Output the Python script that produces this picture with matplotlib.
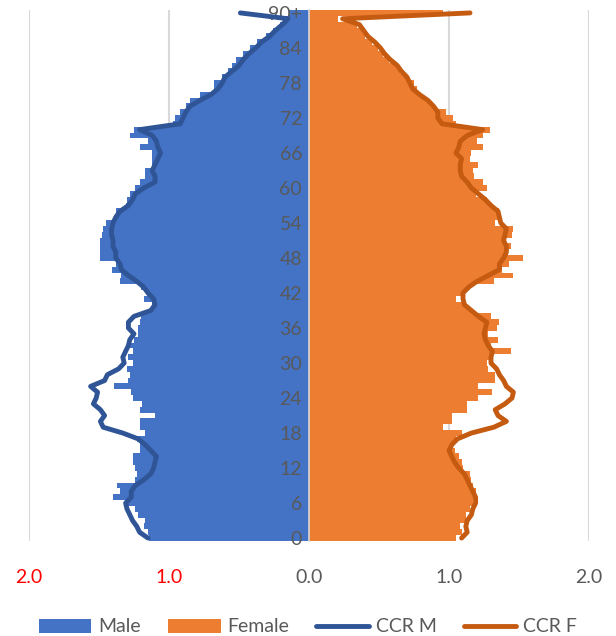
import numpy as np
import matplotlib.pyplot as plt
from matplotlib.patches import Patch
from matplotlib.lines import Line2D

plt.rcParams["font.family"] = ["Lato", "DejaVu Sans"]

ages = list(range(0, 91))

male = [
    1.14, 1.15, 1.18, 1.17, 1.22, 1.24, 1.30, 1.40, 1.35, 1.37,
    1.24, 1.23, 1.24, 1.26, 1.26, 1.21, 1.21, 1.23, 1.17, 1.21,
    1.21, 1.10, 1.21, 1.19, 1.26, 1.27, 1.39, 1.29, 1.28, 1.30,
    1.26, 1.29, 1.26, 1.28, 1.25, 1.22, 1.22, 1.21, 1.20, 1.13,
    1.12, 1.18, 1.16, 1.20, 1.35, 1.34, 1.41, 1.38, 1.49, 1.49,
    1.49, 1.49, 1.48, 1.47, 1.45, 1.38, 1.38, 1.31, 1.30, 1.28,
    1.24, 1.21, 1.17, 1.17, 1.12, 1.12, 1.12, 1.21, 1.15, 1.28,
    1.25, 0.97, 0.96, 0.92, 0.88, 0.85, 0.78, 0.68, 0.68, 0.62,
    0.58, 0.55, 0.52, 0.47, 0.42, 0.37, 0.31, 0.26, 0.21, 0.17,
    0.14,
]

female = [
    1.05, 1.09, 1.08, 1.13, 1.12, 1.15, 1.17, 1.19, 1.19, 1.17,
    1.16, 1.15, 1.10, 1.09, 1.07, 1.04, 1.03, 1.05, 1.09, 0.96,
    1.02, 1.02, 1.13, 1.13, 1.21, 1.31, 1.21, 1.33, 1.33, 1.28,
    1.27, 1.30, 1.44, 1.30, 1.35, 1.28, 1.34, 1.36, 1.30, 1.16,
    1.12, 1.05, 1.10, 1.15, 1.32, 1.46, 1.38, 1.43, 1.53, 1.42,
    1.44, 1.40, 1.45, 1.46, 1.33, 1.37, 1.36, 1.29, 1.27, 1.19,
    1.27, 1.24, 1.18, 1.17, 1.21, 1.15, 1.16, 1.24, 1.20, 1.24,
    1.29, 1.05, 1.03, 0.98, 0.89, 0.85, 0.79, 0.77, 0.75, 0.69,
    0.65, 0.62, 0.57, 0.53, 0.49, 0.45, 0.40, 0.38, 0.34, 0.21,
    0.96,
]

ccr_m = [
    1.15, 1.21, 1.23, 1.26, 1.28, 1.30, 1.31, 1.27, 1.27, 1.24,
    1.18, 1.13, 1.11, 1.10, 1.09, 1.13, 1.17, 1.22, 1.33, 1.47,
    1.49, 1.46, 1.49, 1.54, 1.52, 1.51, 1.56, 1.46, 1.44, 1.36,
    1.32, 1.33, 1.31, 1.29, 1.28, 1.25, 1.29, 1.29, 1.25, 1.13,
    1.10, 1.11, 1.15, 1.18, 1.23, 1.29, 1.34, 1.35, 1.38, 1.38,
    1.40, 1.40, 1.41, 1.41, 1.40, 1.38, 1.35, 1.29, 1.26, 1.24,
    1.18, 1.10, 1.10, 1.12, 1.10, 1.08, 1.06, 1.08, 1.09, 1.12,
    1.21, 0.92, 0.90, 0.88, 0.85, 0.78, 0.70, 0.65, 0.62, 0.60,
    0.55, 0.50, 0.47, 0.43, 0.38, 0.34, 0.28, 0.24, 0.19, 0.15,
    0.49,
]

ccr_f = [
    1.09, 1.13, 1.12, 1.13, 1.16, 1.17, 1.19, 1.19, 1.17, 1.15,
    1.13, 1.11, 1.07, 1.04, 1.02, 1.00, 1.02, 1.06, 1.16, 1.32,
    1.41, 1.35, 1.33, 1.40, 1.45, 1.46, 1.41, 1.39, 1.36, 1.34,
    1.30, 1.30, 1.31, 1.28, 1.26, 1.25, 1.26, 1.27, 1.21, 1.16,
    1.11, 1.10, 1.10, 1.14, 1.20, 1.28, 1.36, 1.36, 1.39, 1.41,
    1.41, 1.39, 1.40, 1.41, 1.37, 1.36, 1.35, 1.30, 1.26, 1.21,
    1.16, 1.13, 1.09, 1.08, 1.08, 1.09, 1.05, 1.07, 1.08, 1.13,
    1.24, 0.95, 0.92, 0.92, 0.89, 0.85, 0.79, 0.74, 0.72, 0.70,
    0.66, 0.63, 0.58, 0.54, 0.51, 0.47, 0.42, 0.39, 0.36, 0.24,
    1.15,
]

age_ticks = list(range(0, 91, 6))
age_labels = [str(a) for a in age_ticks[:-1]] + ["90+"]

x_ticks = [-2, -1, 0, 1, 2]
x_labels = ["2.0", "1.0", "0.0", "1.0", "2.0"]
x_label_colors = ["#FF0000", "#FF0000", "#595959", "#595959", "#595959"]

BLUE = "#4472C4"
ORANGE = "#ED7D31"
DARK_BLUE = "#2F5597"
DARK_ORANGE = "#C55A11"
GRAY_TXT = "#595959"
GRID = "#D9D9D9"


fig = plt.figure(figsize=(6.16, 6.36), dpi=100)
ax = fig.add_axes([29 / 616, 1 - 541 / 636, 560 / 616, 531 / 636])

ax.barh(ages, -np.array(male), height=1.0, color=BLUE, linewidth=0, zorder=2)
ax.barh(ages, female, height=1.0, color=ORANGE, linewidth=0, zorder=2)

ax.plot(-np.array(ccr_m), ages, color=DARK_BLUE, lw=3.5,
        solid_joinstyle="round", solid_capstyle="round", zorder=6)
ax.plot(ccr_f, ages, color=DARK_ORANGE, lw=3.5,
        solid_joinstyle="round", solid_capstyle="round", zorder=6)

for xv in [-2, -1, 1, 2]:
    ax.axvline(xv, color=GRID, lw=1.5, zorder=1)

ax.set_xlim(-2, 2)
ax.set_ylim(-0.5, 90.5)

for side in ["top", "right", "bottom"]:
    ax.spines[side].set_visible(False)
ax.spines["left"].set_position(("data", 0))
ax.spines["left"].set_color(GRID)
ax.spines["left"].set_linewidth(1.2)
ax.spines["left"].set_zorder(3)

# category labels sit on top of the bars, like Excel's axis labels
ax.yaxis.set_zorder(5)

ax.set_yticks(age_ticks)
ax.set_yticklabels(age_labels)
ax.tick_params(axis="y", length=0, pad=5, labelsize=14, labelcolor=GRAY_TXT)

ax.set_xticks(x_ticks)
ax.set_xticklabels(x_labels)
ax.tick_params(axis="x", length=0, pad=20, labelsize=14)
for lab, c in zip(ax.get_xticklabels(), x_label_colors):
    lab.set_color(c)

handles = [
    Patch(facecolor=BLUE, label="Male"),
    Patch(facecolor=ORANGE, label="Female"),
    Line2D([], [], color=DARK_BLUE, lw=3.5, solid_capstyle="round", label="CCR M"),
    Line2D([], [], color=DARK_ORANGE, lw=3.5, solid_capstyle="round", label="CCR F"),
]
leg = fig.legend(handles=handles, loc="center", bbox_to_anchor=(0.5, 1 - 627 / 636),
                 ncol=4, frameon=False, fontsize=14, handlelength=2.7,
                 handleheight=0.75, handletextpad=0.35, columnspacing=1.4)
for t in leg.get_texts():
    t.set_color(GRAY_TXT)

fig.savefig("out.png", dpi=100)
